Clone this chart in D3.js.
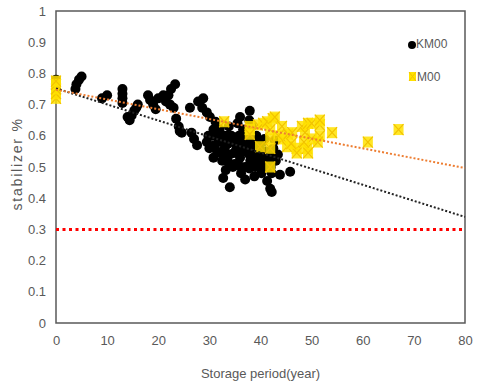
<!DOCTYPE html>
<html>
<head>
<meta charset="utf-8">
<script src="https://cdn.jsdelivr.net/npm/d3@7"></script>
<style>
  body { margin: 0; background: #fff; }
  text { font-family: "Liberation Sans Narrow", "Liberation Sans", sans-serif; fill: #595959; }
</style>
</head>
<body>
<div id="chart"></div>
<script>
// KM00 series [year, stabilizer]
const km00 = [
  [0, 0.78], [0, 0.765],
  [3.8, 0.75], [4, 0.765], [4.5, 0.78], [5, 0.79],
  [9, 0.72], [10, 0.73],
  [13, 0.75], [13, 0.735], [13, 0.72], [13, 0.705],
  [14, 0.66], [14.4, 0.65], [14.8, 0.665], [15.3, 0.68], [15.7, 0.69], [16, 0.7],
  [18, 0.73], [18.4, 0.715], [19, 0.7], [19.5, 0.685],
  [20, 0.72], [21, 0.73], [22, 0.73], [22.5, 0.75], [23.3, 0.765], [21.5, 0.71], [22.3, 0.7], [23, 0.69],
  [23.5, 0.655], [24, 0.63], [24.2, 0.615], [24.6, 0.61],
  [26.2, 0.69], [27.8, 0.71], [28.8, 0.72], [28.6, 0.69], [29.5, 0.675], [30.1, 0.66],
  [27, 0.59], [27.6, 0.57], [26.5, 0.61],
  [29.5, 0.58], [30, 0.56], [30.5, 0.6], [31, 0.57], [31.5, 0.55], [30.8, 0.53], [32, 0.59],
  [32.5, 0.52], [33, 0.56], [33.5, 0.6], [34, 0.54], [34.5, 0.58], [35, 0.51], [35.3, 0.56],
  [35.8, 0.6], [36, 0.53], [36.5, 0.57], [37, 0.5], [37.2, 0.55], [37.5, 0.6], [38, 0.52],
  [38.2, 0.57], [38.6, 0.54], [39, 0.5], [39.2, 0.6], [39.5, 0.55], [40, 0.52], [40.3, 0.58],
  [40.8, 0.5], [41, 0.55], [41.5, 0.53], [42, 0.5], [42.5, 0.56], [43, 0.52],
  [32, 0.62], [33.8, 0.63], [35.5, 0.64], [36.6, 0.62], [37.8, 0.65], [38.3, 0.63], [37.9, 0.68],
  [36, 0.66], [31.2, 0.645], [34.6, 0.5], [33.2, 0.49], [36.2, 0.48], [38.8, 0.47], [40.2, 0.48], [42.2, 0.48],
  [31.8, 0.58], [32.8, 0.6], [33.6, 0.575], [34.3, 0.6], [35, 0.59], [35.8, 0.575], [36.8, 0.59],
  [37.6, 0.575], [38.8, 0.585], [39.8, 0.57], [40.8, 0.59], [31.2, 0.605], [32.3, 0.545],
  [33.3, 0.535], [34.8, 0.545], [36.3, 0.55], [37.8, 0.54], [39.3, 0.525], [40.5, 0.545],
  [41.8, 0.54], [33.7, 0.515], [35.8, 0.505], [37.8, 0.495], [39.8, 0.505], [41.2, 0.515],
  [43.4, 0.54], [42.8, 0.585], [29.8, 0.6], [30.8, 0.62],
  [32.7, 0.465], [34, 0.435], [37, 0.46], [41.3, 0.455], [41.9, 0.43], [42.2, 0.42], [43.8, 0.475], [45.8, 0.485]
];

// M00 series [year, stabilizer]
const m00 = [
  [0, 0.72], [0, 0.735], [0, 0.75], [0, 0.765], [0, 0.775],
  [32.9, 0.645], [37.9, 0.63], [37.9, 0.62], [37.9, 0.605], [39.5, 0.635], [39.9, 0.565],
  [40.5, 0.64], [41.3, 0.645], [42.4, 0.655], [42.8, 0.66], [41.9, 0.62], [41.9, 0.59],
  [41.9, 0.56], [41.9, 0.5], [44.2, 0.63], [44.4, 0.59], [45.2, 0.565], [45.4, 0.605],
  [46.2, 0.61], [47.1, 0.56], [47.1, 0.545], [48.1, 0.63], [48.7, 0.61], [49.3, 0.64],
  [49.1, 0.56], [49.3, 0.545], [50, 0.59], [50, 0.64], [51.6, 0.635], [51.6, 0.65],
  [51.6, 0.6], [51.2, 0.58], [54, 0.61], [61, 0.58], [67, 0.62], [43.5, 0.6], [46, 0.575], [48.5, 0.58]
];

// linear trendlines [intercept, slope]
const kmTrend = [0.752, -0.00515];
const mTrend = [0.748, -0.00314];
const limitLine = 0.3;

const xTicks = [0, 10, 20, 30, 40, 50, 60, 70, 80];
const yTicks = [0, 0.1, 0.2, 0.3, 0.4, 0.5, 0.6, 0.7, 0.8, 0.9, 1];

const width = 477, height = 387;

const svg = d3.select('#chart').append('svg')
  .attr('width', width)
  .attr('height', height);

const x = d3.scaleLinear().domain([0, 80]).range([56, 465]);
const y = d3.scaleLinear().domain([0, 1]).range([323, 11]);

// frame
svg.append('rect')
  .attr('x', x(0)).attr('y', y(1))
  .attr('width', x(80) - x(0)).attr('height', y(0) - y(1))
  .attr('fill', 'none')
  .attr('stroke', '#595959')
  .attr('stroke-width', 1.5);

// axes
svg.append('g')
  .attr('transform', `translate(0,${y(0)})`)
  .call(d3.axisBottom(x).tickValues(xTicks).tickSize(0).tickPadding(13).tickFormat(d3.format('d')))
  .call(g => g.select('.domain').remove())
  .selectAll('text').style('font-size', '13px').attr('fill', '#595959');

svg.append('g')
  .attr('transform', `translate(${x(0)},0)`)
  .call(d3.axisLeft(y).tickValues(yTicks).tickSize(0).tickPadding(10).tickFormat(d => d3.format('')(+d.toFixed(1))))
  .call(g => g.select('.domain').remove())
  .selectAll('text').style('font-size', '13px').attr('fill', '#595959');

svg.append('text')
  .attr('x', (x(0) + x(80)) / 2).attr('y', 378)
  .attr('text-anchor', 'middle')
  .style('font-size', '13px')
  .text('Storage period(year)');

svg.append('text')
  .attr('transform', `translate(22,${y(0.51)}) rotate(-90)`)
  .attr('text-anchor', 'middle')
  .style('font-size', '14px')
  .style('letter-spacing', '1.8px')
  .text('stabilizer %');

// KM00 points
svg.append('g').selectAll('circle')
  .data(km00)
  .join('circle')
  .attr('cx', d => x(d[0]))
  .attr('cy', d => y(d[1]))
  .attr('r', 5)
  .attr('fill', '#000');

// M00 points
const mk = svg.append('g').selectAll('g')
  .data(m00)
  .join('g')
  .attr('transform', d => `translate(${x(d[0])},${y(d[1])})`);
mk.append('rect')
  .attr('x', -5).attr('y', -5.5).attr('width', 10).attr('height', 11)
  .attr('fill', '#FFE200').attr('fill-opacity', 0.85);
mk.append('path')
  .attr('d', 'M-5,-5.5L5,5.5M5,-5.5L-5,5.5')
  .attr('stroke', '#F2C200').attr('stroke-width', 1.2);

// trendlines
const line = d3.line().x(d => x(d[0])).y(d => y(d[1]));
const trendPts = t => [[0, t[0] + t[1] * 0], [80, t[0] + t[1] * 80]];

svg.append('path')
  .attr('d', line(trendPts(kmTrend)))
  .attr('stroke', '#222').attr('stroke-width', 2)
  .attr('stroke-dasharray', '2,2').attr('fill', 'none');

svg.append('path')
  .attr('d', line(trendPts(mTrend)))
  .attr('stroke', '#ED7D31').attr('stroke-width', 2)
  .attr('stroke-dasharray', '2,2').attr('fill', 'none');

svg.append('path')
  .attr('d', line([[0, limitLine], [80, limitLine]]))
  .attr('stroke', '#FF0000').attr('stroke-width', 3)
  .attr('stroke-dasharray', '3,3.5').attr('fill', 'none');

// legend
svg.append('circle').attr('cx', 412).attr('cy', 45).attr('r', 4).attr('fill', '#000');
svg.append('text').attr('x', 416).attr('y', 48).style('font-size', '12px').text('KM00');
svg.append('rect').attr('x', 409).attr('y', 72).attr('width', 7).attr('height', 9).attr('fill', '#FFE200');
svg.append('path').attr('d', 'M409,72L416,81M416,72L409,81').attr('stroke', '#F2C200').attr('stroke-width', 1);
svg.append('text').attr('x', 417).attr('y', 81).style('font-size', '12px').text('M00');
</script>
</body>
</html>
